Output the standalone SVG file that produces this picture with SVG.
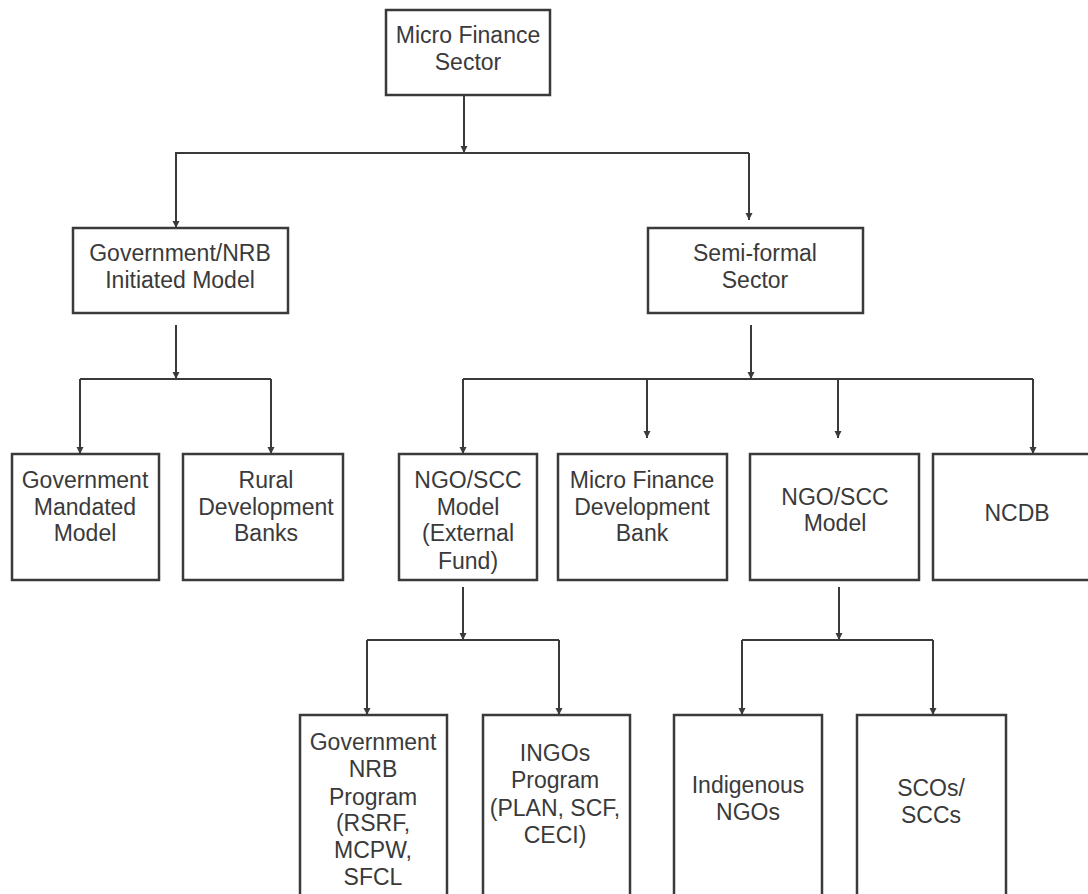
<svg xmlns="http://www.w3.org/2000/svg" width="1088" height="894" viewBox="0 0 1088 894">
<style>
.box{fill:#ffffff;stroke:#3a3a3a;stroke-width:2.5}
.ln{fill:none;stroke:#3a3a3a;stroke-width:2}
.t{font-family:"Liberation Sans",Arial,sans-serif;font-size:23px;fill:#3a3a3a;text-anchor:middle}
</style>
<defs>
<marker id="ah" markerUnits="userSpaceOnUse" markerWidth="8" markerHeight="8" refX="7" refY="3.5" orient="auto">
<path d="M0,0 L7,3.5 L0,7 z" fill="#3a3a3a"/>
</marker>
</defs>
<rect width="1088" height="894" fill="#ffffff"/>
<g id="connectors">
<path class="ln" d="M464,95 V153" marker-end="url(#ah)"/>
<path class="ln" d="M175,153 H749"/>
<path class="ln" d="M176,153 V228" marker-end="url(#ah)"/>
<path class="ln" d="M749,153 V220" marker-end="url(#ah)"/>
<path class="ln" d="M176,325 V379" marker-end="url(#ah)"/>
<path class="ln" d="M80,379 H271"/>
<path class="ln" d="M80,379 V454" marker-end="url(#ah)"/>
<path class="ln" d="M271,379 V454" marker-end="url(#ah)"/>
<path class="ln" d="M751,325 V379" marker-end="url(#ah)"/>
<path class="ln" d="M463,379 H1033"/>
<path class="ln" d="M463,379 V454" marker-end="url(#ah)"/>
<path class="ln" d="M647,379 V438" marker-end="url(#ah)"/>
<path class="ln" d="M838,379 V438" marker-end="url(#ah)"/>
<path class="ln" d="M1033,379 V454" marker-end="url(#ah)"/>
<path class="ln" d="M463,587 V640" marker-end="url(#ah)"/>
<path class="ln" d="M367,640 H559"/>
<path class="ln" d="M367,640 V715" marker-end="url(#ah)"/>
<path class="ln" d="M559,640 V715" marker-end="url(#ah)"/>
<path class="ln" d="M839,587 V640" marker-end="url(#ah)"/>
<path class="ln" d="M742,640 H933"/>
<path class="ln" d="M742,640 V715" marker-end="url(#ah)"/>
<path class="ln" d="M933,640 V715" marker-end="url(#ah)"/>
</g>
<g id="micro-finance-sector">
<rect class="box" x="386" y="10" width="164" height="85"/>
<text class="t" x="468" y="43">Micro Finance</text>
<text class="t" x="468" y="70">Sector</text>
</g>
<g id="gov-nrb">
<rect class="box" x="73" y="228" width="215" height="85"/>
<text class="t" x="180" y="261">Government/NRB</text>
<text class="t" x="180" y="288">Initiated Model</text>
</g>
<g id="semi-formal">
<rect class="box" x="648" y="228" width="215" height="85"/>
<text class="t" x="755" y="261">Semi-formal</text>
<text class="t" x="755" y="288">Sector</text>
</g>
<g id="gov-mandated">
<rect class="box" x="12" y="454" width="147" height="126"/>
<text class="t" x="85" y="488">Government</text>
<text class="t" x="85" y="515">Mandated</text>
<text class="t" x="85" y="541">Model</text>
</g>
<g id="rural-dev">
<rect class="box" x="183" y="454" width="160" height="126"/>
<text class="t" x="266" y="488">Rural</text>
<text class="t" x="266" y="515">Development</text>
<text class="t" x="266" y="541">Banks</text>
</g>
<g id="ngo-scc-ext">
<rect class="box" x="399" y="454" width="138" height="126"/>
<text class="t" x="468" y="488">NGO/SCC</text>
<text class="t" x="468" y="515">Model</text>
<text class="t" x="468" y="541">(External</text>
<text class="t" x="468" y="569">Fund)</text>
</g>
<g id="mfdb">
<rect class="box" x="558" y="454" width="169" height="126"/>
<text class="t" x="642" y="488">Micro Finance</text>
<text class="t" x="642" y="515">Development</text>
<text class="t" x="642" y="541">Bank</text>
</g>
<g id="ngo-scc-model">
<rect class="box" x="750" y="454" width="169" height="126"/>
<text class="t" x="835" y="505">NGO/SCC</text>
<text class="t" x="835" y="531">Model</text>
</g>
<g id="ncdb">
<path class="box" d="M1090,454 H933 V580 H1090"/>
<text class="t" x="1017" y="521">NCDB</text>
</g>
<g id="gov-nrb-program">
<rect class="box" x="300" y="715" width="147" height="190"/>
<text class="t" x="373" y="750">Government</text>
<text class="t" x="373" y="777">NRB</text>
<text class="t" x="373" y="805">Program</text>
<text class="t" x="373" y="831">(RSRF,</text>
<text class="t" x="373" y="858">MCPW,</text>
<text class="t" x="373" y="885">SFCL</text>
</g>
<g id="ingos-program">
<rect class="box" x="483" y="715" width="147" height="190"/>
<text class="t" x="555" y="761">INGOs</text>
<text class="t" x="555" y="788">Program</text>
<text class="t" x="555" y="816">(PLAN, SCF,</text>
<text class="t" x="555" y="843">CECI)</text>
</g>
<g id="indigenous-ngos">
<rect class="box" x="674" y="715" width="148" height="190"/>
<text class="t" x="748" y="793">Indigenous</text>
<text class="t" x="748" y="820">NGOs</text>
</g>
<g id="scos-sccs">
<rect class="box" x="857" y="715" width="149" height="190"/>
<text class="t" x="931" y="796">SCOs/</text>
<text class="t" x="931" y="823">SCCs</text>
</g>
</svg>
